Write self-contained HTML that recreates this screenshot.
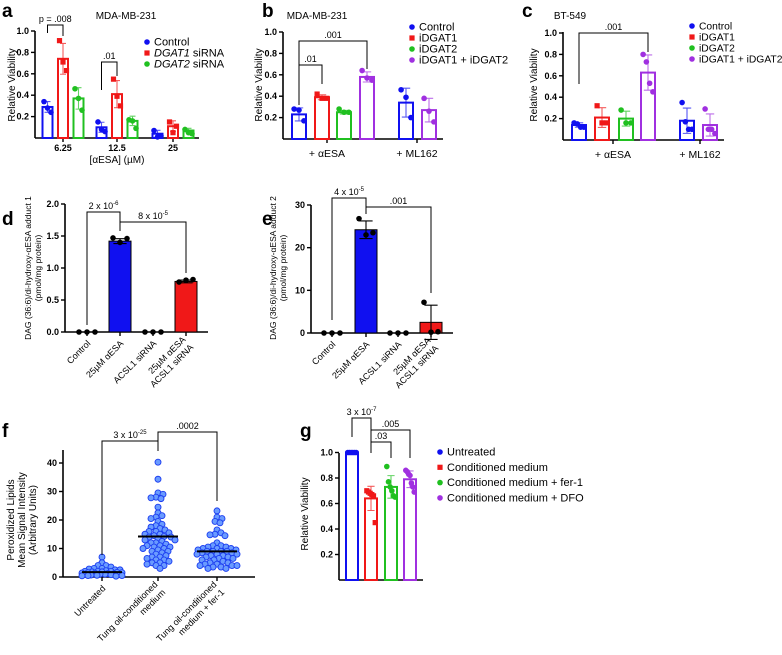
<!DOCTYPE html>
<html><head><meta charset="utf-8"><style>
html,body{margin:0;padding:0;background:#fff;}
svg{display:block;font-family:"Liberation Sans",sans-serif;}
.tk{font-size:9px;font-weight:bold;}
.t{font-size:10px;}
.s{font-size:8.5px;}
.L{font-size:19px;font-weight:bold;}
</style></head><body>
<svg id="fig" width="782" height="655" viewBox="0 0 782 655" xmlns="http://www.w3.org/2000/svg">
<g>
<text class="L" x="2" y="17">a</text>
<text class="L" x="262" y="17">b</text>
<text class="L" x="522" y="17">c</text>
<text class="L" x="2" y="225">d</text>
<text class="L" x="262" y="225">e</text>
<text class="L" x="2" y="437">f</text>
<text class="L" x="300" y="437">g</text>
<text class="t" x="126" y="19" text-anchor="middle">MDA-MB-231</text>
<text class="t" x="317" y="19" text-anchor="middle">MDA-MB-231</text>
<text class="t" x="570" y="19" text-anchor="middle">BT-549</text>
<text class="t" transform="translate(15,85) rotate(-90)" text-anchor="middle">Relative Viability</text>
<text class="t" transform="translate(262,85) rotate(-90)" text-anchor="middle">Relative Viability</text>
<text class="t" transform="translate(537,85) rotate(-90)" text-anchor="middle">Relative Viability</text>
<text class="t" x="117" y="163" text-anchor="middle">[αESA] (µM)</text>
<text class="s" transform="translate(31,268) rotate(-90)" text-anchor="middle">DAG (36:6)/di-hydroxy-αESA adduct 1</text>
<text class="s" transform="translate(41,268) rotate(-90)" text-anchor="middle">(pmol/mg protein)</text>
<text class="s" transform="translate(276,268) rotate(-90)" text-anchor="middle">DAG (36:6)/di-hydroxy-αESA adduct 2</text>
<text class="s" transform="translate(286,268) rotate(-90)" text-anchor="middle">(pmol/mg protein)</text>
<text class="t" transform="translate(14,520) rotate(-90)" text-anchor="middle">Peroxidized Lipids</text>
<text class="t" transform="translate(25,520) rotate(-90)" text-anchor="middle">Mean Signal Intensity</text>
<text class="t" transform="translate(36,520) rotate(-90)" text-anchor="middle">(Arbitrary Units)</text>
<text class="t" transform="translate(308,514) rotate(-90)" text-anchor="middle">Relative Viability</text>
</g>
<g id="dyn"></g>
</svg>
<script>
// ---------- data ----------
const aCats = ['6.25','12.5','25'];
const aControl = [[0.34,0.28,0.24],[0.15,0.08,0.06],[0.07,0.01,0.02]];
const aDGAT1 = [[0.91,0.71,0.63],[0.55,0.39,0.30],[0.15,0.05,0.11]];
const aDGAT2 = [[0.46,0.37,0.26],[0.17,0.16,0.09],[0.08,0.05,0.04]];
const aMeans = [[0.29,0.74,0.37],[0.10,0.41,0.16],[0.04,0.11,0.07]];

const bCats = ['+ αESA','+ ML162'];
const bReps = [[0.28,0.27,0.17],[0.42,0.38,0.38],[0.28,0.25,0.25],[0.64,0.57,0.55],[0.46,0.39,0.20],[0.38,0.26,0.16]];
const bMeans = [0.23,0.39,0.25,0.58,0.34,0.27];

const cCats = ['+ αESA','+ ML162'];
const cReps = [[0.16,0.15,0.12,0.12],[0.32,0.16,0.16],[0.28,0.16,0.16],[0.80,0.73,0.53,0.45],[0.35,0.17,0.10,0.10],[0.29,0.10,0.10,0.06]];
const cMeans = [0.14,0.21,0.20,0.63,0.18,0.14];

const deCats = ['Control','25µM αESA','ACSL1 siRNA','25µM αESA|ACSL1 siRNA'];
const dReps = [[0,0,0],[1.47,1.40,1.46],[0,0,0],[0.78,0.81,0.82]];
const dMeans = [0,1.42,0,0.79];
const eReps = [[0,0,0],[26.8,23.0,23.5],[0,0,0],[7.2,0.2,0.3]];
const eMeans = [0,24.2,0,2.5];

const fCats = ['Untreated','Tung oil-conditioned|medium','Tung oil-conditioned|medium + fer-1'];
const fUntreated = [7,5,4,4,3.5,3,3,2.8,2.5,2.5,2.2,2,2,1.8,1.8,1.6,1.5,1.4,1.3,1.2,1.1,1,1,0.9,0.8,0.7,0.6,0.5,0.5,0.4,0.3,1.5,2,0.8];
const fTung = [40.3,34.3,29.5,29,28,27.8,27.5,24.5,22.5,21.5,21,20.5,19.5,18.5,18,17.5,17,16.5,16,15.5,15,14.5,14.2,14,14,13.5,13,12.5,12,11.5,11,10.5,10.5,10,10,9.5,9,9,8.5,8,7.5,7,7,6.5,6,6,5.5,5,5,4.5,4,4,3,12,15,13,16,11];
const fFer = [23.2,21,20.5,19.5,19,16.5,15.5,15,14.8,14.5,12,11,11,10.5,10.5,10,10,9.5,9.5,9,9,9,8.5,8.5,8,8,7.5,7.5,7,7,6.5,6.5,6,6,5.5,5,5,4.5,4.5,4,4,4,3.5,3.5,3,3,9,8,10];
const fMedians = [1.7,14.2,9.0];

const gCats = ['Untreated','Conditioned medium','Conditioned medium + fer-1','Conditioned medium + DFO'];
const gReps = [[1,1,1,1,1,1],[0.70,0.69,0.68,0.67,0.66,0.45],[0.89,0.77,0.73,0.70,0.66,0.65],[0.86,0.85,0.83,0.82,0.76,0.73,0.69]];
const gMeans = [1.0,0.64,0.73,0.79];

const vTicks = [0.2,0.4,0.6,0.8,1.0];
const vTickLabels = ['0.2','0.4','0.6','0.8','1.0'];
const dTicks = [0,0.5,1,1.5,2];
const dTickLabels = ['0.0','0.5','1.0','1.5','2.0'];
const eTicks = [0,10,20,30];
const eTickLabels = ['0','10','20','30'];
const fTicks = [0,10,20,30,40];
const fTickLabels = ['0','10','20','30','40'];

// ---------- helpers ----------
const NS='http://www.w3.org/2000/svg';
const root=document.getElementById('dyn');
function mk(tag,at,parent){const e=document.createElementNS(NS,tag);for(const k in at)e.setAttribute(k,at[k]);(parent||root).appendChild(e);return e;}
const BLUE='#1010f0',RED='#f01818',GREEN='#20c020',PURPLE='#a030e0';
function sd(a){const m=a.reduce((s,v)=>s+v,0)/a.length;return Math.sqrt(a.reduce((s,v)=>s+(v-m)*(v-m),0)/Math.max(1,a.length-1));}

function yAxis(x0,yZero,k,top,ticks,labels,name){
  const yf=v=>yZero-v*k;
  const l=mk('line',{x1:x0,y1:yZero,x2:x0,y2:top,stroke:'#000','stroke-width':1.6});
  
  
  ticks.forEach((t,i)=>{
    const tk=mk('line',{x1:x0-4,y1:yf(t),x2:x0,y2:yf(t),stroke:'#000','stroke-width':1.4});
    
    
    const tx=mk('text',{x:x0-6,y:yf(t)+3,'text-anchor':'end','class':'tk'});
    tx.textContent=labels[i];
    
    
  });
  return yf;
}
function xAxis(x0,x1,y,tickXs,name){
  const l=mk('line',{x1:x0,y1:y,x2:x1,y2:y,stroke:'#000','stroke-width':1.6});
  
  
  tickXs.forEach(x=>{
    const t=mk('line',{x1:x,y1:y,x2:x,y2:y+4,stroke:'#000','stroke-width':1.4});
    
    
  });
}
function bar(cx,w,mean,reps,yf,color,filled,shape,dotColor,name,spread){
  const y0=yf(0),y1=yf(mean);
  const r=mk('rect',{x:cx-w/2,y:Math.min(y0,y1),width:w,height:Math.abs(y0-y1),fill:filled?color:'#fff',stroke:filled?'#000':color,'stroke-width':filled?1:2});
  
  
  const s=sd(reps);
  if(s>0){
    const ec=filled?'#000':color;
    const e=mk('path',{d:`M${cx},${yf(mean-s)}V${yf(mean+s)}M${cx-w*0.3},${yf(mean+s)}H${cx+w*0.3}M${cx-w*0.3},${yf(mean-s)}H${cx+w*0.3}`,stroke:ec,'stroke-width':1.1,fill:'none',opacity:filled?1:0.7});
    
    
  }
  const n=reps.length,sp=spread||w*0.7;
  reps.forEach((v,i)=>{
    const dx=n>1?-sp/2+sp*i/(n-1):0;
    let d;
    if(shape==='sq') d=mk('rect',{x:cx+dx-2.6,y:yf(v)-2.6,width:5.2,height:5.2,fill:dotColor});
    else d=mk('circle',{cx:cx+dx,cy:yf(v),r:2.8,fill:dotColor});
    
    
  });
}
function bracket(xa,ya,xb,yb,top,label,name,sup){
  const p=mk('path',{d:`M${xa},${ya}V${top}H${xb}V${yb}`,stroke:'#000','stroke-width':1,fill:'none'});
  
  
  const t=mk('text',{x:(xa+xb)/2,y:top-3,'text-anchor':'middle','font-size':'9px'});
  t.textContent=label;
  if(sup){const ts=mk('tspan',{dy:-4,'font-size':'6px'},t);ts.textContent=sup;}
  
  
}
function legend(x,y0,dy,items,name,fs){
  items.forEach((it,i)=>{
    const y=y0+i*dy;
    let m;
    if(it[2]==='sq') m=mk('rect',{x:x-2.6,y:y-2.6,width:5.2,height:5.2,fill:it[1]});
    else m=mk('circle',{cx:x,cy:y,r:2.8,fill:it[1]});
    
    
    const t=mk('text',{x:x+7,y:y+3.5,'font-size':(fs||10.5)+'px'});
    if(it[3]){const a=mk('tspan',{'font-style':'italic'},t);a.textContent=it[3];const b=mk('tspan',{},t);b.textContent=it[0];}
    else t.textContent=it[0];
    
    
  });
}
function catLabel(x,y,label,name,rot){
  const parts=label.split('|');
  const t=mk('text',{x:x,y:y,'text-anchor':rot?'end':'middle','font-size':rot?'9px':'10px',transform:rot?`rotate(-45 ${x} ${y})`:''});
  parts.forEach((p,i)=>{const ts=mk('tspan',{x:x,dy:i?11:0},t);ts.textContent=p;});
  if(rot&&parts.length>1){ t.setAttribute('transform',`rotate(-45 ${x} ${y}) translate(0,${-11*(parts.length-1)/2})`);}
  
  
}

// ---------- panel a ----------
(function(){
  const yf=yAxis(35,138,107,31,vTicks,vTickLabels,'panel-a');
  const gx=[63,117,173],off=[-15.5,0,15.5];
  xAxis(35,199,138,gx,'panel-a');
  const reps=[aControl,aDGAT1,aDGAT2],cols=[BLUE,RED,GREEN],sh=['c','sq','c'];
  aCats.forEach((c,gi)=>{
    for(let s=0;s<3;s++) bar(gx[gi]+off[s],10,aMeans[gi][s],reps[s][gi],yf,cols[s],false,sh[s],cols[s],'panel-a');
    const t=mk('text',{x:gx[gi],y:151,'text-anchor':'middle','class':'tk'});
    t.textContent=c;
    
    
  });
  bracket(47.5,33,63,36,25,'p = .008','panel-a');
  bracket(101.5,90,117,76,62,'.01','panel-a');
  legend(147,42,11,[['Control',BLUE,'c'],[' siRNA',RED,'sq','DGAT1'],[' siRNA',GREEN,'c','DGAT2']],'panel-a',11);
})();

// ---------- panels b, c ----------
function panelBC(name,x0,yZero,xEnd,bx,gx,cats,reps,means,top,legendX,legendY,br,fs){
  const yf=yAxis(x0,yZero,107,top,vTicks,vTickLabels,name);
  xAxis(x0,xEnd,yZero,gx,name);
  const cols=[BLUE,RED,GREEN,PURPLE,BLUE,PURPLE],sh=['c','sq','c','c','c','c'];
  means.forEach((m,i)=>bar(bx[i],14,m,reps[i],yf,cols[i],false,sh[i],cols[i],name));
  cats.forEach((c,i)=>{
    const t=mk('text',{x:gx[i],y:yZero+18,'text-anchor':'middle','font-size':'10.5px'});
    t.textContent=c;
    
    
  });
  br.forEach(b=>bracket(b[0],b[1],b[2],b[3],b[4],b[5],name));
  legend(legendX,legendY,11,[['Control',BLUE,'c'],['iDGAT1',RED,'sq'],['iDGAT2',GREEN,'c'],['iDGAT1 + iDGAT2',PURPLE,'c']],name,fs);
}
panelBC('panel-b',283,139,443,[299,322,344,367,406,429],[327,417],bCats,bReps,bMeans,32,412,27,
  [[299,105,367,69,41,'.001'],[299,105,322,84,65,'.01']],11);
panelBC('panel-c',563,140,724,[579,602,626,648,687,710],[613,700],cCats,cReps,cMeans,32,692,26,
  [[579,84,648,52,33,'.001']],10.3);

// ---------- panels d, e ----------
function panelDE(name,x0,yZero,k,top,xEnd,bx,ticks,labels,reps,means,br){
  const yf=yAxis(x0,yZero,k,top,ticks,labels,name);
  xAxis(x0,xEnd,yZero,bx,name);
  const cols=['#fff',BLUE,'#fff',RED];
  means.forEach((m,i)=>bar(bx[i],22,m,reps[i],yf,cols[i],true,'c','#000',name,m===0?16:14));
  deCats.forEach((c,i)=>catLabel(bx[i]+4,yZero+12,c,name,true));
  br.forEach(b=>bracket(b[0],b[1],b[2],b[3],b[4],b[5],name,b[6]));
}
panelDE('panel-d',65,332,64,204,208,[87,120,153,186],dTicks,dTickLabels,dReps,dMeans,
  [[87,325,120,231,212,'2 x 10','-6'],[120,231,186,273,222,'8 x 10','-5']]);
panelDE('panel-e',311,333,128/30,205,453,[332,366,398,431],eTicks,eTickLabels,eReps,eMeans,
  [[332,320,366,214,198,'4 x 10','-5'],[366,214,431,293,207,'.001']]);

// ---------- panel f ----------
(function(){
  const name='panel-f';
  const yf=yAxis(63,577,2.85,450,fTicks,fTickLabels,name);
  const gx=[102,158,217];
  xAxis(63,255,577,gx,name);
  const MIN=4.6,MAXOFF=20;
  [fUntreated,fTung,fFer].forEach((vals,gi)=>{
    const placed=[];
    const sorted=vals.slice().sort((a,b)=>b-a);
    sorted.forEach(v=>{
      const y=yf(v);let best=null,bestScore=1e9;
      for(let s=0;s<=2*MAXOFF;s++){
        const off=(s%2?1:-1)*Math.ceil(s/2);
        const cand=gx[gi]+off;
        let minD=1e9;placed.forEach(p=>{minD=Math.min(minD,Math.hypot(p[0]-cand,p[1]-y));});
        if(minD>=MIN){best=cand;break;}
        const score=-minD;
        if(score<bestScore){bestScore=score;best=cand;}
      }
      placed.push([best,y]);
      const c=mk('circle',{cx:best,cy:y,r:3,fill:'#6a9bff',stroke:'#1a3cf0','stroke-width':0.9});
      
      
    });
    const m=mk('line',{x1:gx[gi]-20,x2:gx[gi]+20,y1:yf(fMedians[gi]),y2:yf(fMedians[gi]),stroke:'#000','stroke-width':2});
    
    
    catLabel(gx[gi]+4,589,fCats[gi],name,true);
  });
  bracket(102,555,158,451,441,'3 x 10','panel-f','-25');
  bracket(158,441,217,501,432,'.0002','panel-f');
})();

// ---------- panel g ----------
(function(){
  const name='panel-g';
  const yf=yAxis(339,580,127.5,453,vTicks,vTickLabels,name);
  const bx=[352,371,391,410];
  xAxis(339,423,580,[],name);
  const cols=[BLUE,RED,GREEN,PURPLE],sh=['c','sq','c','c'];
  gMeans.forEach((m,i)=>bar(bx[i],12,m,gReps[i],yf,cols[i],false,sh[i],cols[i],name));
  bracket(352,437,371,453,418,'3 x 10','panel-g','-7');
  bracket(371,430,410,458,430,'.005','panel-g');
  bracket(371,442,391,458,442,'.03','panel-g');
  legend(440,452,15.3,[['Untreated',BLUE,'c'],['Conditioned medium',RED,'sq'],['Conditioned medium + fer-1',GREEN,'c'],['Conditioned medium + DFO',PURPLE,'c']],name,11);
})();
</script>
</body></html>
